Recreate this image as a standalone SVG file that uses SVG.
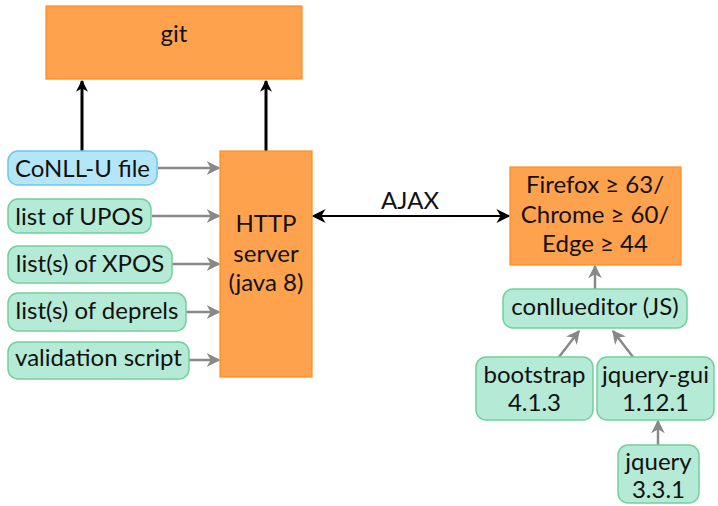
<svg xmlns="http://www.w3.org/2000/svg" width="718" height="506" viewBox="0 0 718 506">
<style>
.o{fill:#ffa24d;stroke:#ff8c1f;stroke-width:1.2}
.g{fill:#b5ead6;stroke:#72cf9f;stroke-width:1.5}
.b{fill:#b5e6f7;stroke:#6bc8ee;stroke-width:1.5}
text{font-family:Lato,"Noto Sans","Liberation Sans",sans-serif;font-size:24px;fill:#111;text-anchor:middle}
.k{stroke:#000;stroke-width:3;fill:none}
.a{stroke:#888;stroke-width:2.5;fill:none}
.j{stroke:#000;stroke-width:2;fill:none}
</style>
<defs>
<marker id="mk" viewBox="0 0 10 10" refX="9" refY="5" markerWidth="4" markerHeight="4" orient="auto" markerUnits="strokeWidth"><path d="M0,0 L10,5 L0,10 L3,5 Z" fill="#000"/></marker>
<marker id="mj" viewBox="0 0 10 10" refX="9" refY="5" markerWidth="7" markerHeight="7" orient="auto-start-reverse" markerUnits="strokeWidth"><path d="M0,0 L10,5 L0,10 L3,5 Z" fill="#000"/></marker>
<marker id="mg" viewBox="0 0 10 10" refX="9" refY="5" markerWidth="5.5" markerHeight="5.5" orient="auto" markerUnits="strokeWidth"><path d="M0,0 L10,5 L0,10 L3,5 Z" fill="#888"/></marker>
</defs>
<g id="connectors">
<line class="k" x1="82" y1="151" x2="82" y2="81" marker-end="url(#mk)"/>
<line class="k" x1="266" y1="151" x2="266" y2="81" marker-end="url(#mk)"/>
<line class="a" x1="158" y1="168" x2="219" y2="168" marker-end="url(#mg)"/>
<line class="a" x1="152" y1="216" x2="219" y2="216" marker-end="url(#mg)"/>
<line class="a" x1="172" y1="264" x2="219" y2="264" marker-end="url(#mg)"/>
<line class="a" x1="186" y1="312" x2="219" y2="312" marker-end="url(#mg)"/>
<line class="a" x1="189" y1="360" x2="219" y2="360" marker-end="url(#mg)"/>
<line class="j" x1="313" y1="216" x2="509" y2="216" marker-start="url(#mj)" marker-end="url(#mj)"/>
<line class="a" x1="595" y1="289" x2="595" y2="266" marker-end="url(#mg)"/>
<line class="a" x1="559" y1="357" x2="579" y2="331" marker-end="url(#mg)"/>
<line class="a" x1="633" y1="357" x2="613" y2="331" marker-end="url(#mg)"/>
<line class="a" x1="658" y1="445" x2="658" y2="421" marker-end="url(#mg)"/>
<text x="410" y="209">AJAX</text>
</g>
<g id="git"><rect class="o" x="46" y="6" width="256" height="73"/><text x="174" y="42">git</text></g>
<g id="http"><rect class="o" x="220" y="151" width="92" height="226"/><text x="266" y="232">HTTP</text><text x="266" y="262">server</text><text x="266" y="291">(java 8)</text></g>
<g id="conllu"><rect class="b" x="8" y="151" width="149" height="34" rx="10"/><text x="82.5" y="177">CoNLL-U file</text></g>
<g id="upos"><rect class="g" x="8" y="199" width="143" height="34" rx="10"/><text x="79.5" y="225">list of UPOS</text></g>
<g id="xpos"><rect class="g" x="8" y="246" width="164" height="37" rx="10"/><text x="90" y="272">list(s) of XPOS</text></g>
<g id="deprels"><rect class="g" x="8" y="293" width="178" height="38" rx="10"/><text x="97" y="319">list(s) of deprels</text></g>
<g id="validation"><rect class="g" x="8" y="342" width="181" height="37" rx="10"/><text x="98.5" y="366">validation script</text></g>
<g id="browser"><rect class="o" x="510" y="167" width="171" height="98"/><text x="595" y="193">Firefox ≥ 63/</text><text x="595" y="223">Chrome ≥ 60/</text><text x="595" y="252">Edge ≥ 44</text></g>
<g id="conllueditor"><rect class="g" x="503" y="289" width="184" height="39" rx="10"/><text x="595" y="315">conllueditor (JS)</text></g>
<g id="bootstrap"><rect class="g" x="476" y="357" width="117" height="63" rx="10"/><text x="534.5" y="383">bootstrap</text><text x="534.5" y="411">4.1.3</text></g>
<g id="jquerygui"><rect class="g" x="597" y="357" width="117" height="63" rx="10"/><text x="655.5" y="383">jquery-gui</text><text x="655.5" y="411">1.12.1</text></g>
<g id="jquery"><rect class="g" x="618" y="445" width="81" height="58" rx="10"/><text x="658.5" y="470">jquery</text><text x="658.5" y="498">3.3.1</text></g>
</svg>
